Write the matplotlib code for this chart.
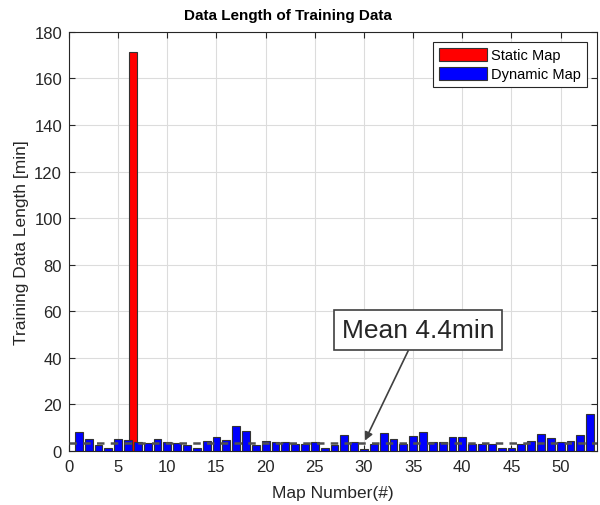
import matplotlib
matplotlib.use("Agg")
import matplotlib.pyplot as plt
import numpy as np

plt.rcParams['font.family'] = ['Liberation Sans', 'DejaVu Sans']

# static map (one long recording)
static_x = [6.5]
static_len = [171.5]

# dynamic maps 1..53, minutes
dynamic_x = np.arange(1, 54)
dynamic_len = [8.0, 5.2, 2.6, 1.2, 5.2, 4.6, 3.6, 3.3, 4.9, 3.9,
               3.4, 2.7, 1.3, 4.4, 5.9, 4.7, 10.6, 8.7, 2.6, 4.4,
               3.7, 4.0, 3.0, 3.0, 4.0, 1.1, 2.6, 6.6, 3.7, 0.9,
               3.0, 7.7, 4.9, 3.0, 6.2, 8.3, 3.7, 4.0, 5.9, 5.9,
               3.0, 3.0, 3.0, 1.1, 1.1, 3.0, 4.4, 7.1, 5.6, 4.0,
               4.4, 6.9, 15.9]

mean_level = 3.4
mean_text = 'Mean 4.4min'
arrow_tip = (30.1, 4.4)

fig = plt.figure(figsize=(6, 5.06), dpi=100)
ax = fig.add_axes([0.115, 0.107, 0.88, 0.828])

ax.bar(static_x, static_len, width=0.8, color='#ff0000', edgecolor='#333333',
       linewidth=0.8, label='Static Map', zorder=2)
ax.bar(dynamic_x, dynamic_len, width=0.8, color='#0000ff', edgecolor='#333333',
       linewidth=0.8, label='Dynamic Map', zorder=3)
ax.plot([0, 53.7], [mean_level, mean_level], ls=(0, (3, 2.5)), color='#505050',
        lw=1.8, zorder=4)

ax.annotate(mean_text, xy=arrow_tip, xytext=(35.5, 51.8),
            fontsize=19, color='#262626', ha='center', va='center',
            bbox=dict(boxstyle='square,pad=0.3', fc='white', ec='#404040', lw=1.2),
            arrowprops=dict(arrowstyle='-|>', color='#404040', lw=1.2,
                            mutation_scale=12, shrinkA=0, shrinkB=0),
            zorder=5)

ax.set_xlim(0, 53.7)
ax.set_ylim(0, 180)
ax.set_xticks(np.arange(0, 51, 5))
ax.set_yticks(np.arange(0, 181, 20))
ax.grid(True, color='#dcdcdc', lw=0.8, zorder=0)
ax.set_axisbelow(True)
ax.tick_params(direction='in', top=True, right=True, labelsize=12,
               colors='#262626', length=4)
ax.tick_params(axis='x', pad=6)
ax.tick_params(axis='y', pad=5)
for s in ax.spines.values():
    s.set_color('#262626')
    s.set_linewidth(0.8)

ax.set_xlabel('Map Number(#)', fontsize=12.5, color='#262626', labelpad=8)
ax.set_ylabel('Training Data Length [min]', fontsize=12.5, color='#262626', labelpad=4)
fig.text(0.48, 0.968, 'Data Length of Training Data', ha='center', va='center',
         fontsize=11, fontweight='bold', color='black')

leg = ax.legend(loc='upper right', fontsize=10.5, handlelength=3.3, handleheight=1.0,
                fancybox=False, framealpha=1, edgecolor='#262626',
                borderpad=0.4, labelspacing=0.3, handletextpad=0.3,
                borderaxespad=0.7)
leg.get_frame().set_linewidth(0.8)

fig.savefig('out.png', dpi=100)
